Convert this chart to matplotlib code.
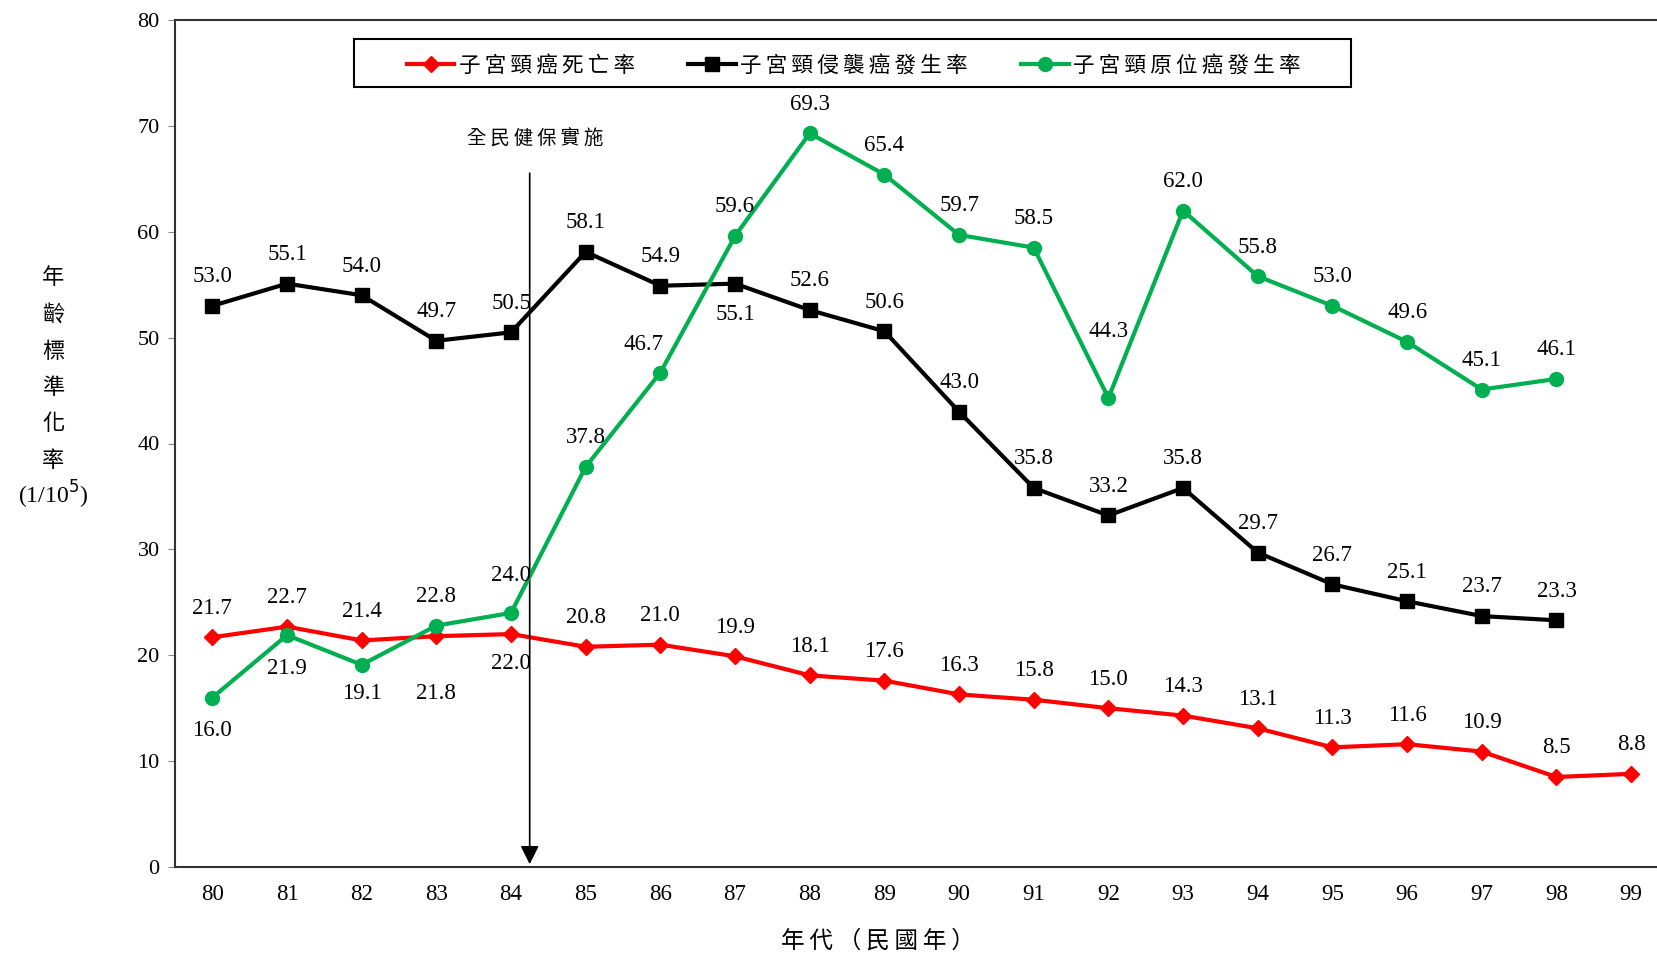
import matplotlib.pyplot as plt
from matplotlib.patches import Rectangle

plt.rcParams['font.family'] = ['Liberation Serif', 'Noto Sans CJK TC', 'DejaVu Sans']

years = list(range(80, 100))
death = [21.7, 22.7, 21.4, 21.8, 22.0, 20.8, 21.0, 19.9, 18.1, 17.6,
         16.3, 15.8, 15.0, 14.3, 13.1, 11.3, 11.6, 10.9, 8.5, 8.8]
invasive = [53.0, 55.1, 54.0, 49.7, 50.5, 58.1, 54.9, 55.1, 52.6, 50.6,
            43.0, 35.8, 33.2, 35.8, 29.7, 26.7, 25.1, 23.7, 23.3]
insitu = [16.0, 21.9, 19.1, 22.8, 24.0, 37.8, 46.7, 59.6, 69.3, 65.4,
          59.7, 58.5, 44.3, 62.0, 55.8, 53.0, 49.6, 45.1, 46.1]
labels = ['子宮頸癌死亡率', '子宮頸侵襲癌發生率', '子宮頸原位癌發生率']

cjk = ['Noto Sans CJK TC', 'DejaVu Sans']
RED, BLACK, GREEN = '#FF0000', '#000000', '#00B050'

fig = plt.figure(figsize=(16.58, 9.56), dpi=100)
ax = fig.add_axes([175 / 1658, 89 / 956, 1 - 175 / 1658, 847 / 956])

def spaced(s):
    return '\u2009'.join(s)

ax.plot(years, death, color=RED, lw=3, marker='D', ms=8.5, label=spaced(labels[0]), zorder=3)
ax.plot(years[:len(invasive)], invasive, color=BLACK, lw=3, marker='s', ms=10,
        label=spaced(labels[1]), zorder=4)
ax.plot(years[:len(insitu)], insitu, color=GREEN, lw=3, marker='o', ms=10,
        label=spaced(labels[2]), zorder=5)

# label offsets (points) -- default above
def put(xs, ys, special):
    for x, y in zip(xs, ys):
        dx, dy = special.get(x, (0, 21))
        ax.annotate(f'{y:.1f}', (x, y), xytext=(dx, dy), textcoords='offset points',
                    ha='center', va='center', fontsize=16.5, zorder=6)

put(years, death, {83: (0, -41), 84: (0, -21)})
put(years, invasive, {87: (0, -22)})
put(years, insitu, {80: (0, -24), 81: (0, -24), 82: (0, -21), 84: (0, 27),
                    86: (-12, 20), 92: (0, 48)})

ax.set_xlim(79.5, 99.36)
ax.set_ylim(0, 80)
ax.set_yticks(range(0, 81, 10))
ax.set_xticks(years)
ax.tick_params(axis='y', length=5, color='#888888', labelsize=16, pad=6)
ax.tick_params(axis='x', length=0, labelsize=16.5, pad=12)
ax.spines['right'].set_visible(False)
for s in ['left', 'bottom', 'top']:
    ax.spines[s].set_linewidth(1.5)
    ax.spines[s].set_color('#333333')

# 全民健保實施 arrow
ax.annotate('', xy=(84.25, 0), xytext=(84.25, 65.8),
            arrowprops=dict(arrowstyle='-|>', color='black', lw=1.2, mutation_scale=28))
ax.text(84.33, 68.7, spaced('全民健保實施'), ha='center', va='center', fontsize=14, family=cjk)

# legend: frameless entries inside a separate box
ax.add_patch(Rectangle((0.1207, 0.9209), 0.672, 0.0567, transform=ax.transAxes,
                       facecolor='white', edgecolor='black', lw=1.5, zorder=7))
leg = ax.legend(loc='center left', bbox_to_anchor=(0.1564, 0.946), ncol=3, frameon=False,
                handlelength=2.2, handletextpad=0.2, columnspacing=2.5,
                borderpad=0, borderaxespad=0, prop={'family': cjk, 'size': 15.5})
leg.set_zorder(8)

ylab = list('年齡標準化率')
for i, ch in enumerate(ylab):
    fig.text(53 / 1658, 1 - (278 + 36.5 * i) / 956, ch, ha='center', va='center',
             fontsize=16, family=cjk)
fig.text(53 / 1658, 1 - 495 / 956, '(1/10$^5$)', ha='center', va='center', fontsize=17)

fig.text(878 / 1658, 1 - 941 / 956, spaced('年代（民國年）'), ha='center', va='center',
         fontsize=17, family=cjk)

fig.savefig('out.png', dpi=100)
